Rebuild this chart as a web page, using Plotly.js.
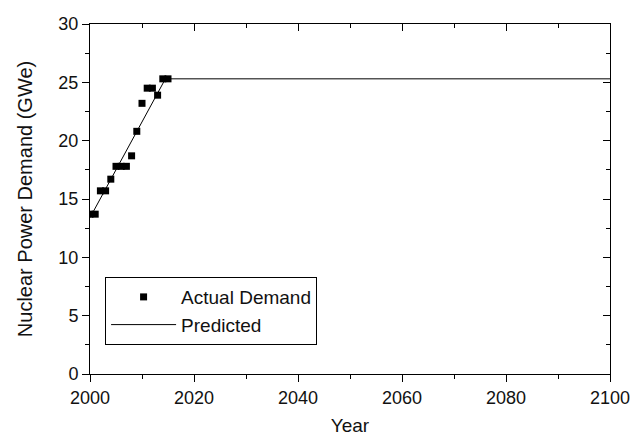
<!DOCTYPE html>
<html>
<head>
<meta charset="utf-8">
<script src="https://cdn.plot.ly/plotly-3.0.1.min.js"></script>
<style>html,body{margin:0;padding:0;background:#fff}#chart{width:631px;height:439px}</style>
</head>
<body>
<div id="chart"></div>
<script>
// Actual demand data
var actualYears = [2000, 2001, 2002, 2003, 2004, 2005, 2006, 2007, 2008, 2009, 2010, 2011, 2012, 2013, 2014, 2015];
var actualDemand = [13.7, 13.7, 15.7, 15.7, 16.7, 17.8, 17.8, 17.8, 18.7, 20.8, 23.2, 24.5, 24.5, 23.9, 25.3, 25.3];
// Predicted curve
var predYears = [2000, 2014.5, 2100];
var predDemand = [13.4, 25.3, 25.3];
// Tick labels
var xTicks = [2000, 2020, 2040, 2060, 2080, 2100];
var yTicks = [0, 5, 10, 15, 20, 25, 30];

var fontFam = 'Liberation Sans, Arial, sans-serif';
var traces = [
  {x: actualYears, y: actualDemand, type: 'scatter', mode: 'markers', name: 'Actual Demand',
   marker: {symbol: 'square', size: 7, color: '#000'}},
  {x: predYears, y: predDemand, type: 'scatter', mode: 'lines', name: 'Predicted',
   line: {color: '#000', width: 1}},
  {x: [2000], y: [0], xaxis: 'x2', yaxis: 'y2', type: 'scatter', mode: 'markers',
   marker: {opacity: 0}, showlegend: false, hoverinfo: 'skip'}
];
var axCommon = {showgrid: false, zeroline: false, showline: true, linecolor: '#000', linewidth: 1,
  tickcolor: '#000', ticklen: 7, tickwidth: 1, tickfont: {family: fontFam, size: 18, color: '#111'}};
var layout = {
  width: 631, height: 439,
  margin: {l: 90, r: 21, t: 24, b: 65},
  paper_bgcolor: '#fff', plot_bgcolor: '#fff',
  font: {family: fontFam, color: '#111'},
  showlegend: true,
  legend: {x: 0.029, y: 0.277, xanchor: 'left', yanchor: 'top', bordercolor: '#000', borderwidth: 1,
    bgcolor: '#fff', font: {family: fontFam, size: 19, color: '#111'}, itemwidth: 65},
  xaxis: Object.assign({}, axCommon, {range: [2000, 2100], tickvals: xTicks, ticks: 'outside',
    ticklabeloverflow: 'allow',
    minor: {dtick: 10, ticks: 'outside', ticklen: 4, tickcolor: '#000'},
    title: {text: 'Year', font: {family: fontFam, size: 19, color: '#111'}, standoff: 12}}),
  yaxis: Object.assign({}, axCommon, {range: [0, 30], tickvals: yTicks, ticks: 'outside',
    minor: {dtick: 2.5, ticks: 'outside', ticklen: 4, tickcolor: '#000'},
    title: {text: 'Nuclear Power Demand (GWe)', font: {family: fontFam, size: 20, color: '#111'}, standoff: 20}}),
  xaxis2: Object.assign({}, axCommon, {range: [2000, 2100], tickvals: xTicks, ticks: 'inside', overlaying: 'x',
    side: 'top', anchor: 'y2', showticklabels: false,
    minor: {dtick: 10, ticks: 'inside', ticklen: 4, tickcolor: '#000'}}),
  yaxis2: Object.assign({}, axCommon, {range: [0, 30], tickvals: yTicks, ticks: 'inside', overlaying: 'y',
    side: 'right', anchor: 'x2', showticklabels: false,
    minor: {dtick: 2.5, ticks: 'inside', ticklen: 4, tickcolor: '#000'}})
};
Plotly.newPlot('chart', traces, layout, {staticPlot: true, displayModeBar: false});
</script>
</body>
</html>
